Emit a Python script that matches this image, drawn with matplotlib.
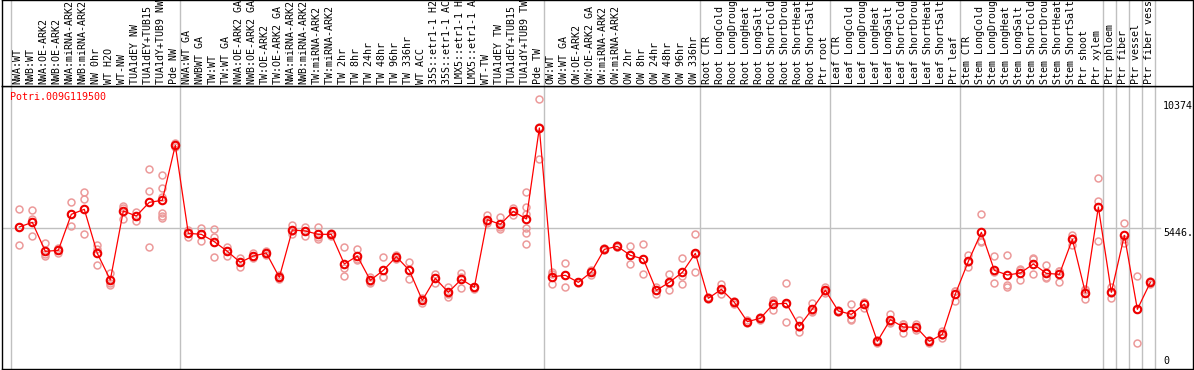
import numpy as np
import matplotlib.pyplot as plt

gene = 'Potri.009G119500'

samples = ['NWA:WT', 'NWB:WT', 'NWA:OE-ARK2', 'NWB:OE-ARK2', 'NWA:miRNA-ARK2', 'NWB:miRNA-ARK2',
           'NW 0hr', 'WT H2O', 'WT-NW', 'TUA1dEY NW', 'TUA1dEY+TUB15 NW', 'TUA1dY+TUB9 NW', 'Pde NW',
           'NWA:WT GA', 'NWBWT GA', 'TW:WT', 'TW:WT GA', 'NWA:OE-ARK2 GA', 'NWB:OE-ARK2 GA',
           'TW:OE-ARK2', 'TW:OE-ARK2 GA', 'NWA:miRNA-ARK2', 'NWB:miRNA-ARK2', 'TW:miRNA-ARK2',
           'TW:miRNA-ARK2 GA', 'TW 2hr', 'TW 8hr', 'TW 24hr', 'TW 48hr', 'TW 96hr', 'TW 336hr',
           'WT ACC', '35S::etr1-1 H2O', '35S::etr1-1 ACC', 'LMX5::etr1-1 H2O', 'LMX5::etr1-1 ACC',
           'WT-TW', 'TUA1dEY TW', 'TUA1dEY+TUB15 TW', 'TUA1dY+TUB9 TW', 'Pde TW',
           'OW:WT', 'OW:WT GA', 'OW:OE-ARK2', 'OW:OE-ARK2 GA', 'OW:miRNA-ARK2', 'OW:miRNA-ARK2 GA',
           'OW 2hr', 'OW 8hr', 'OW 24hr', 'OW 48hr', 'OW 96hr', 'OW 336hr',
           'Root CTR', 'Root LongCold', 'Root LongDrought', 'Root LongHeat', 'Root LongSalt',
           'Root ShortCold', 'Root ShortDrought', 'Root ShortHeat', 'Root ShortSalt', 'Ptr root',
           'Leaf CTR', 'Leaf LongCold', 'Leaf LongDrought', 'Leaf LongHeat', 'Leaf LongSalt',
           'Leaf ShortCold', 'Leaf ShortDrought', 'Leaf ShortHeat', 'Leaf ShortSalt', 'Ptr leaf',
           'Stem CTR', 'Stem LongCold', 'Stem LongDrought', 'Stem LongHeat', 'Stem LongSalt',
           'Stem ShortCold', 'Stem ShortDrought', 'Stem ShortHeat', 'Stem ShortSalt', 'Ptr shoot',
           'Ptr xylem', 'Ptr phloem', 'Ptr fiber', 'Ptr vessel', 'Ptr fiber vessel']

# first column of each block (vertical separators)
group_starts = [0, 13, 41, 53, 63, 73, 84, 85, 86, 87, 88]

mean_expr = [5504, 5685, 4561, 4600, 5995, 6189, 4483, 3450, 6124, 5930, 6460, 6538, 8669,
             5258, 5220, 4935, 4561, 4134, 4380, 4496, 3553, 5388, 5349, 5220, 5220, 4070, 4380,
             3437, 3824, 4354, 3824, 2662, 3514, 2972, 3475, 3165, 5788, 5607, 6111, 5814, 9341,
             3579, 3631, 3359, 3760, 4638, 4755, 4406, 4264, 3049, 3359, 3747, 4483,
             2739, 3088, 2584, 1835, 1964, 2519, 2545, 1654, 2326, 3049,
             2248, 2119, 2519, 1072, 1912, 1628, 1615, 1072, 1344, 2907,
             4173, 5297, 3824, 3643, 3721, 4070, 3708, 3669, 5026, 2959, 6279,
             2972, 5181, 2313, 3359]

replicates = [
    [6189, 4806, 5504], [6150, 5801, 5155], [4871, 4393, 4444], [4703, 4483, 4600],
    [6460, 5995, 5556], [6848, 6576, 5220], [4806, 4638, 4031], [3734, 3320, 3256],
    [6318, 6227, 5801], [6085, 5930, 5749], [7739, 6899, 4729],
    [7506, 7003, 6680, 6059, 5930, 5866], [8747, 8669, 8592],
    [5388, 5129, 5258], [5452, 4974, 5220], [5413, 5129, 4328], [4742, 4393, 4561],
    [4289, 3966, 4134], [4483, 4289, 4380], [4587, 4406, 4496], [3631, 3475, 3553],
    [5581, 5233, 5349], [5517, 5168, 5349], [5491, 5026, 5129], [5284, 5155, 5220],
    [4716, 3902, 3605], [4651, 4225, 4264], [3579, 3346, 3385], [4328, 3579, 3566],
    [4419, 4251, 4393], [4160, 3475, 3837], [2739, 2571, 2674], [3669, 3346, 3527],
    [3191, 2804, 2920], [3734, 3127, 3566], [3191, 3114, 3191], [5969, 5672, 5724],
    [5879, 5439, 5504], [6227, 5969, 6137], [6848, 6266, 6008, 5478, 5284, 4832],
    [10450, 9393, 8127],
    [3773, 3282, 3682], [4096, 3165, 3631], [3385, 3320, 3372], [3837, 3643, 3798],
    [4677, 4600, 4638], [4806, 4716, 4742], [4755, 4057, 4406], [4845, 3669, 4264],
    [3191, 2894, 3062], [3682, 3049, 3346], [4289, 3618, 3295], [5233, 3747, 4470],
    [2778, 2700, 2739], [3295, 2907, 3062], [2649, 2519, 2584], [1899, 1770, 1835],
    [2028, 1899, 1964], [2674, 2287, 2597], [3320, 1809, 2506], [1899, 1447, 1615],
    [2545, 2196, 2235], [3191, 2933, 3023],
    [2287, 2209, 2248], [2506, 1899, 1951], [2610, 2377, 2571], [1124, 1021, 1072],
    [2132, 1835, 1770], [1731, 1408, 1744], [1731, 1512, 1602], [1124, 1021, 1072],
    [1486, 1214, 1331], [3036, 2649, 3036],
    [4419, 3966, 4134], [5995, 4961, 4935], [4380, 3320, 3773], [4419, 3256, 3191],
    [3876, 3450, 3837], [4289, 3669, 4251], [4031, 3514, 3579], [3811, 3385, 3811],
    [5194, 4806, 5078], [3062, 2726, 3088], [7390, 6512, 4948],
    [3191, 2765, 2959], [5646, 4871, 5026], [3605, 995, 2339], [3411, 3295, 3359]]

ymax_label = '10374'
ymid = 5446.5

W, H = 1194, 370
fig = plt.figure(figsize=(W / 100, H / 100), dpi=100)
mono = 'DejaVu Sans Mono'
grey = '#c0c0c0'
x = np.arange(len(samples))
xlim = (-1.331, 90.28)
seps = [g - 0.64 for g in group_starts]

# plot area
ax = fig.add_axes([2 / W, 1 / H, 1191 / W, 283 / H])
ax.set_xlim(*xlim)
ax.set_ylim(0, 10969)
ax.set_xticks([])
ax.set_yticks([])
for s in ax.spines.values():
    s.set_color('black')
    s.set_linewidth(1)

for sx in seps:
    ax.axvline(sx, color=grey, lw=1, zorder=1)
ax.plot([xlim[0], 87.75], [ymid, ymid], color=grey, lw=1, zorder=1)

for i, reps in enumerate(replicates):
    ax.plot([i] * len(reps), reps, 'o', ms=5, mfc='none', mec='#ec9a9a', mew=1.1, zorder=2)
ax.plot(x, mean_expr, '-', color='#ff0000', lw=0.9, zorder=3)
ax.plot(x, mean_expr, 'o', ms=5.4, mfc='none', mec='#ee0000', mew=1.5, zorder=4)

ax.text(87.98, 10374, ymax_label, fontsize=7.2, family=mono, va='top', ha='left', clip_on=True)
ax.text(87.98, ymid, '%.1f' % ymid, fontsize=7.2, family=mono, va='top', ha='left', clip_on=True)
ax.text(87.98, 100, '0', fontsize=7.2, family=mono, va='bottom', ha='left', clip_on=True)

fig.text(10 / W, 1 - 97 / H, gene, color='#ff0000', fontsize=7.2, family=mono, va='center', ha='left')

# sample names
lab = fig.add_axes([2 / W, 284 / H, 1191 / W, 86 / H])
lab.set_xlim(*xlim)
lab.set_ylim(0, 1)
lab.set_xticks([])
lab.set_yticks([])
for s in lab.spines.values():
    s.set_color('black')
    s.set_linewidth(1)
for sx in seps:
    lab.axvline(sx, color=grey, lw=1, zorder=1)
for i, name in enumerate(samples):
    lab.text(i - 0.12, 2.5 / 86, name, rotation=90, fontsize=7.2, family=mono,
             ha='center', va='bottom', clip_on=True)

fig.savefig('out.png', dpi=100)
